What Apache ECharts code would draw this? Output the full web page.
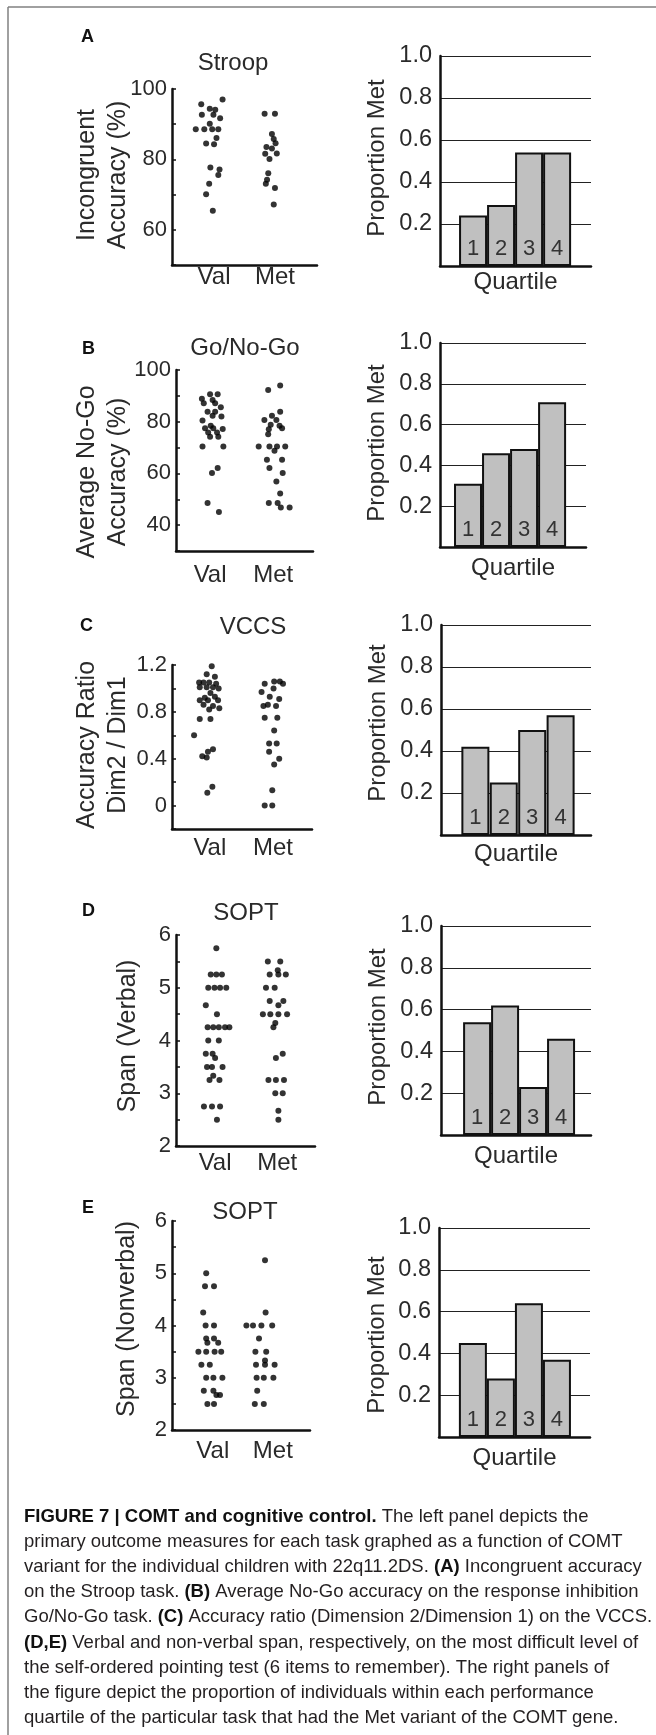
<!DOCTYPE html>
<html><head><meta charset="utf-8">
<script src="https://cdn.jsdelivr.net/npm/echarts@6/dist/echarts.min.js"></script>
<style>html,body{margin:0;padding:0;background:#fff}#c{width:656px;height:1735px}</style>
</head><body><div id="c"></div><script>
// ---------------- DATA ----------------
const categories = ['Val', 'Met'];
const quartiles = ['1', '2', '3', '4'];

// A: Stroop incongruent accuracy (%)
const stroopValY = [97.0,95.7,94.4,94.1,92.7,92.7,91.7,90.1,88.6,88.6,88.6,88.6,86.1,84.5,84.3,77.7,77.1,75.6,73.1,70.1,65.4];
const stroopValJit = [0.14,-0.21,-0.07,0.02,-0.20,-0.01,0.10,-0.07,-0.30,-0.16,-0.03,0.07,0.04,-0.13,0.0,-0.06,0.09,0.07,-0.08,-0.13,-0.02];
const stroopMetY = [93.0,93.0,87.2,85.8,84.6,83.5,83.1,81.7,81.6,80.1,76.1,74.2,73.1,71.9,67.2];
const stroopMetJit = [-0.17,0.0,-0.05,-0.02,0.01,-0.14,-0.05,0.03,-0.16,-0.09,-0.11,-0.13,-0.15,0.0,-0.02];
const stroopProp = [0.24,0.29,0.54,0.54];
const stroopTicks = [60,80,100];

// B: Go/No-Go average No-Go accuracy (%)
const goValY = [90.6,90.6,88.9,88.4,87.1,87.1,85.6,83.9,83.9,82.3,82.0,80.5,78.4,77.5,77.5,77.2,75.8,75.8,74.2,74.2,70.4,70.4,62.1,60.2,48.6,45.1];
const goValJit = [0.0,0.12,-0.13,0.04,-0.10,0.08,0.17,-0.04,0.08,0.04,0.18,-0.12,0.01,-0.08,0.05,0.20,-0.03,0.11,0.0,0.13,-0.12,0.21,0.12,0.03,-0.04,0.14];
const goMetY = [92.3,94.0,83.9,82.3,80.7,80.7,78.8,78.4,77.5,77.1,75.2,70.4,70.4,70.4,70.4,68.8,65.3,65.3,62.1,60.2,56.9,52.2,48.6,48.6,46.8,46.8];
const goMetJit = [-0.08,0.11,0.11,-0.02,-0.14,0.05,-0.04,0.10,0.14,-0.07,-0.08,-0.23,-0.06,0.06,0.19,0.02,-0.10,0.14,-0.06,0.15,0.05,0.11,-0.07,0.07,0.12,0.26];
const goProp = [0.31,0.46,0.48,0.71];
const goTicks = [40,60,80,100];

// C: VCCS accuracy ratio
const vccsValY = [1.21,1.19,1.12,1.10,1.05,1.05,1.05,1.04,1.01,1.01,1.01,1.00,0.96,0.92,0.93,0.90,0.90,0.90,0.86,0.85,0.83,0.82,0.74,0.74,0.60,0.48,0.46,0.42,0.41,0.16,0.11];
const vccsValJit = [-0.14,0.03,-0.05,0.08,-0.17,-0.10,-0.01,0.10,-0.16,-0.05,0.05,0.14,0.01,-0.08,0.08,-0.16,-0.03,0.13,-0.10,0.05,0.15,-0.01,-0.16,0.01,-0.25,0.05,-0.03,-0.12,-0.05,0.04,-0.04];
const vccsMetY = [1.04,1.06,1.06,1.04,0.97,1.00,0.93,0.91,0.85,0.86,0.85,0.75,0.75,0.64,0.53,0.53,0.46,0.40,0.35,0.13,0.0,0.0];
const vccsMetJit = [-0.13,0.02,0.11,0.16,-0.18,0.01,-0.05,0.10,-0.15,-0.08,0.05,-0.13,0.07,0.02,-0.06,0.06,-0.06,0.10,0.02,-0.01,-0.13,-0.01];
const vccsProp = [0.42,0.25,0.50,0.57];
const vccsTicks = [0,0.4,0.8,1.2];

// D: SOPT verbal span
const verbValY = [5.75,5.25,5.25,5.25,5.0,5.0,5.0,5.0,4.67,4.5,4.25,4.25,4.25,4.25,4.25,4.0,4.0,3.75,3.75,3.67,3.5,3.5,3.5,3.33,3.25,3.25,2.75,2.75,2.75,2.5];
const verbValJit = [0.02,-0.07,0.02,0.11,-0.11,-0.01,0.08,0.18,-0.15,0.03,-0.12,-0.03,0.06,0.16,0.23,-0.11,0.06,-0.15,-0.04,0.0,-0.13,-0.05,0.12,-0.03,-0.09,0.07,-0.18,-0.05,0.08,0.03];
const verbMetY = [5.5,5.5,5.33,5.25,5.25,5.25,5.0,5.0,4.75,4.75,4.67,4.5,4.5,4.5,4.5,4.33,4.25,3.75,3.67,3.25,3.25,3.25,3.0,3.0,2.67,2.5];
const verbMetJit = [-0.15,0.05,0.01,-0.12,0.02,0.14,-0.18,-0.04,-0.12,0.10,0.02,-0.23,-0.11,0.02,0.16,-0.03,-0.06,0.09,-0.02,-0.14,-0.02,0.11,-0.03,0.09,0.02,0.02];
const verbProp = [0.54,0.62,0.23,0.46];

// E: SOPT nonverbal span
const nonvValY = [5.0,4.75,4.75,4.25,4.0,4.0,3.75,3.75,3.67,3.67,3.5,3.5,3.5,3.5,3.25,3.25,3.0,3.0,3.0,2.75,2.75,2.67,2.67,2.5,2.5];
const nonvValJit = [-0.11,-0.13,0.02,-0.16,-0.12,0.02,-0.11,0.02,-0.09,0.09,-0.24,-0.11,0.03,0.14,-0.19,-0.05,-0.11,0.01,0.16,-0.15,0.01,0.06,0.12,-0.09,0.02];
const nonvMetY = [5.25,4.25,4.0,4.0,4.0,4.0,3.75,3.5,3.5,3.33,3.25,3.25,3.25,3.0,3.0,3.0,2.75,2.5,2.5];
const nonvMetJit = [-0.13,-0.12,-0.44,-0.33,-0.19,-0.01,-0.23,-0.29,-0.11,-0.13,-0.28,-0.13,0.03,-0.27,-0.15,0.01,-0.26,-0.30,-0.15];
const nonvProp = [0.45,0.28,0.64,0.37];

const spanTicks = [2,3,4,5,6];
const propTicks = [0.2,0.4,0.6,0.8,1.0];

const panelLetters = ['A','B','C','D','E'];
const taskTitles = ['Stroop','Go/No-Go','VCCS','SOPT','SOPT'];
const scatterNames = ['Incongruent\nAccuracy (%)','Average No-Go\nAccuracy (%)','Accuracy Ratio\nDim2 / Dim1','Span (Verbal)','Span (Nonverbal)'];
const barYName = 'Proportion Met';
const barXName = 'Quartile';
const captionLines = [
  '{b|FIGURE 7 | COMT and cognitive control.} The left panel depicts the',
  'primary outcome measures for each task graphed as a function of COMT',
  'variant for the individual children with 22q11.2DS. {b|(A)} Incongruent accuracy',
  'on the Stroop task. {b|(B)} Average No-Go accuracy on the response inhibition',
  'Go/No-Go task. {b|(C)} Accuracy ratio (Dimension 2/Dimension 1) on the VCCS.',
  '{b|(D,E)} Verbal and non-verbal span, respectively, on the most difficult level of',
  'the self-ordered pointing test (6 items to remember). The right panels of',
  'the figure depict the proportion of individuals within each performance',
  'quartile of the particular task that had the Met variant of the COMT gene.'
];

// ---------------- LAYOUT ----------------
const FF = '"Liberation Sans", Arial, Helvetica, sans-serif';
const TXT = '#2a2a2a';
const scatterPanels = [
  {vals:[stroopValY, stroopMetY], jit:[stroopValJit, stroopMetJit], ticks:stroopTicks, fmt:v=>String(v),
   left:172, top:89, width:145, height:176, xMin:0.31, xMax:2.69, yMin:50, yMax:100, yStep:10, catMargin:0},
  {vals:[goValY, goMetY], jit:[goValJit, goMetJit], ticks:goTicks, fmt:v=>String(v),
   left:176, top:370, width:137, height:181, xMin:0.46, xMax:2.63, yMin:30, yMax:100, yStep:10, catMargin:12},
  {vals:[vccsValY, vccsMetY], jit:[vccsValJit, vccsMetJit], ticks:vccsTicks, fmt:v=>(v===0?'0':v.toFixed(1)),
   left:172, top:665, width:140, height:164, xMin:0.40, xMax:2.62, yMin:-0.2, yMax:1.2, yStep:0.2, catMargin:7},
  {vals:[verbValY, verbMetY], jit:[verbValJit, verbMetJit], ticks:spanTicks, fmt:v=>String(v),
   left:176, top:935, width:139, height:211, xMin:0.37, xMax:2.61, yMin:2, yMax:6, yStep:0.5, catMargin:5},
  {vals:[nonvValY, nonvMetY], jit:[nonvValJit, nonvMetJit], ticks:spanTicks, fmt:v=>String(v),
   left:172, top:1221, width:138, height:209, xMin:0.32, xMax:2.62, yMin:2, yMax:6, yStep:0.5, catMargin:9}
];
const barPanels = [
  {vals:stroopProp, left:440, top:56,   width:151, height:210, xMin:-0.18, xMax:5.21, nameGap:4},
  {vals:goProp,     left:440, top:343,  width:146, height:204, xMin:0.0,   xMax:5.21, nameGap:9},
  {vals:vccsProp,   left:441, top:625,  width:150, height:210, xMin:-0.21, xMax:5.07, nameGap:7},
  {vals:verbProp,   left:441, top:926,  width:150, height:209, xMin:-0.29, xMax:5.07, nameGap:9},
  {vals:nonvProp,   left:439, top:1228, width:151, height:209, xMin:-0.21, xMax:5.18, nameGap:9}
];
const letterPos = [[81,37],[82,349],[80,626],[82,911],[82,1208]];
const titlePos = [[233,63],[245,348],[253,627],[246,913],[245,1212]];
const yNamePos = [[103,175],[103,472],[103,745],[128,1036],[127,1319]];
const barNamePos = [[377,158],[377,443],[378,723],[378,1027],[377,1335]];

function pickFmt(ticks, fmt) {
  return function (v) {
    const t = ticks.find(t => Math.abs(t - v) < 1e-6);
    return t === undefined ? '' : fmt(t);
  };
}

const grid = [], xAxis = [], yAxis = [], series = [], graphic = [];
const axisLine = {show:true, onZero:false, lineStyle:{color:'#111', width:2.5}};

scatterPanels.forEach((p, k) => {
  const gi = grid.length;
  grid.push({left:p.left, top:p.top, width:p.width, height:p.height, containLabel:false});
  xAxis.push({type:'value', gridIndex:gi, min:p.xMin, max:p.xMax, interval:1,
    axisLine:axisLine, axisTick:{show:false}, splitLine:{show:false},
    axisLabel:{customValues:[1,2], formatter:v=>categories[Math.round(v)-1] || '', margin:p.catMargin,
      fontSize:24, fontFamily:FF, color:TXT}});
  yAxis.push({type:'value', gridIndex:gi, min:p.yMin, max:p.yMax, interval:p.yStep,
    axisLine:axisLine, splitLine:{show:false},
    axisTick:{show:true, inside:true, length:4, lineStyle:{color:'#111', width:1.5}},
    axisLabel:{customValues:p.ticks, formatter:pickFmt(p.ticks, p.fmt), margin:5,
      fontSize:22, fontFamily:FF, color:TXT}});
  [0,1].forEach(c => {
    series.push({type:'scatter', xAxisIndex:gi, yAxisIndex:gi, symbol:'circle', symbolSize:6,
      itemStyle:{color:'#000'},
      data:p.vals[c].map((y, i) => [c + 1 + p.jit[c][i], y])});
  });
});

barPanels.forEach((p, k) => {
  const gi = grid.length;
  grid.push({left:p.left, top:p.top, width:p.width, height:p.height, containLabel:false});
  xAxis.push({type:'value', gridIndex:gi, min:p.xMin, max:p.xMax,
    axisLine:axisLine, axisTick:{show:false}, splitLine:{show:false}, axisLabel:{show:false},
    name:barXName, nameLocation:'middle', nameGap:p.nameGap,
    nameTextStyle:{fontSize:24, fontFamily:FF, color:TXT}});
  yAxis.push({type:'value', gridIndex:gi, min:0, max:1, interval:0.2,
    axisLine:axisLine, axisTick:{show:false},
    splitLine:{show:true, lineStyle:{color:'#222', width:1.2}},
    axisLabel:{customValues:propTicks, formatter:pickFmt(propTicks, v=>v.toFixed(1)), margin:8,
      fontSize:23.5, fontFamily:FF, color:TXT}});
  series.push({type:'bar', xAxisIndex:gi, yAxisIndex:gi, barWidth:28,
    itemStyle:{color:'#c0c0c0', borderColor:'#111', borderWidth:2},
    label:{show:true, position:'insideBottom', distance:6, fontSize:22, fontFamily:FF, color:'#333',
      formatter:q=>quartiles[q.dataIndex]},
    data:p.vals.map((v, i) => [i + 1, v])});
});

// frame lines
graphic.push({type:'line', shape:{x1:8, y1:7, x2:656, y2:7}, style:{stroke:'#808080', lineWidth:1.5}});
graphic.push({type:'line', shape:{x1:8, y1:7, x2:8, y2:1735}, style:{stroke:'#808080', lineWidth:1.5}});

for (let k = 0; k < 5; k++) {
  graphic.push({type:'text', x:letterPos[k][0], y:letterPos[k][1],
    style:{text:panelLetters[k], fontSize:18, fontWeight:'bold', fontFamily:FF, fill:'#111', align:'left', verticalAlign:'middle'}});
  graphic.push({type:'text', x:titlePos[k][0], y:titlePos[k][1],
    style:{text:taskTitles[k], fontSize:24, fontFamily:FF, fill:TXT, align:'center', verticalAlign:'middle'}});
  graphic.push({type:'text', x:yNamePos[k][0], y:yNamePos[k][1], rotation:Math.PI/2,
    style:{text:scatterNames[k], fontSize:25, lineHeight:31, fontFamily:FF, fill:TXT, align:'center', verticalAlign:'middle'}});
  graphic.push({type:'text', x:barNamePos[k][0], y:barNamePos[k][1], rotation:Math.PI/2,
    style:{text:barYName, fontSize:24, fontFamily:FF, fill:TXT, align:'center', verticalAlign:'middle'}});
}

captionLines.forEach((line, i) => {
  graphic.push({type:'text', x:24, y:1517 + 25.1 * i,
    style:{text:line, fontSize:18.5, fontFamily:FF, fill:'#231f20', align:'left', verticalAlign:'middle',
      rich:{b:{fontSize:18.5, fontFamily:FF, fontWeight:'bold', fill:'#111'}}}});
});

const chart = echarts.init(document.getElementById('c'), null, {renderer:'canvas', width:656, height:1735});
chart.setOption({animation:false, backgroundColor:'#fff', grid, xAxis, yAxis, series, graphic});
</script></body></html>
